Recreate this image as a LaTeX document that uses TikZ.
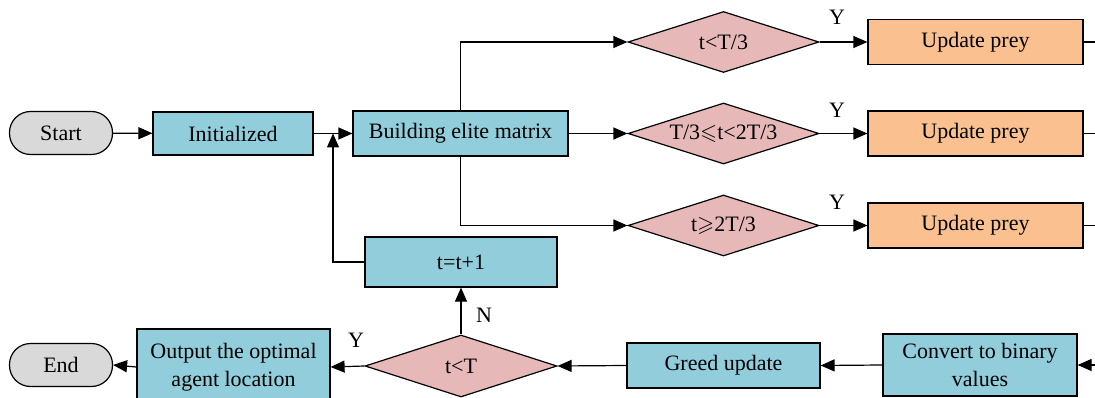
\documentclass[tikz,border=0pt]{standalone}
\usepackage{amssymb}
\usepackage{fontspec}
\setmainfont{Liberation Serif}
\usetikzlibrary{arrows.meta,shapes.geometric}
\definecolor{procblue}{HTML}{92CDDC}
\definecolor{preyorange}{HTML}{FAC090}
\definecolor{condpink}{HTML}{E6B9B8}
\definecolor{termgray}{HTML}{D9D9D9}
\tikzset{
  base/.style={draw=black, line width=1.2pt, inner sep=0pt, align=center,
    font=\fontsize{22}{28}\selectfont},
  proc/.style={base, rectangle, fill=procblue},
  prey/.style={base, rectangle, fill=preyorange, minimum width=215pt, minimum height=45pt},
  cond/.style={base, diamond, shape aspect=3.1, fill=condpink},
  term/.style={base, rectangle, rounded corners=21pt, fill=termgray,
    minimum width=103pt, minimum height=43pt},
  arr/.style={line width=1.2pt, -{Triangle[length=14pt,width=12pt]}},
  link/.style={line width=1.2pt},
  lbl/.style={inner sep=0pt, font=\fontsize{22}{28}\selectfont}
}
\begin{document}
\begin{tikzpicture}[x=1pt,y=-1pt]
\clip (0,0) rectangle (1095,398);

% top row
\node[term] (start) at (61,133) {Start};
\node[proc, minimum width=160pt, minimum height=43pt] (init) at (233,133.5) {Initialized};
\node[proc, minimum width=215pt, minimum height=45pt] (build) at (460.5,133.5) {Building elite matrix};

% phase conditions
\node[cond, minimum width=191pt, minimum height=61pt] (d1) at (723.5,42) {t<T/3};
\node[cond, minimum width=191pt, minimum height=61pt] (d2) at (723.5,133.5) {T/3\(\leqslant\)t<2T/3};
\node[cond, minimum width=191pt, minimum height=61pt] (d3) at (723.5,225.5) {t\(\geqslant\)2T/3};

% prey updates
\node[prey] (u1) at (975.5,42) {Update prey};
\node[prey] (u2) at (975.5,133.5) {Update prey};
\node[prey] (u3) at (975.5,225.5) {Update prey};
\coordinate (o1) at (1100,42);
\coordinate (o2) at (1100,133.5);
\coordinate (o3) at (1100,225.5);

% iteration counter
\node[proc, minimum width=192pt, minimum height=50pt] (inc) at (461,262) {t=t+1};
\coordinate (fb) at (333,133.5);

% bottom row
\node[cond, minimum width=192pt, minimum height=62pt] (dT) at (461,366) {t<T};
\node[proc, minimum width=193pt, minimum height=76pt] (out) at (233.5,367) {Output the optimal\\agent location};
\node[term] (end) at (61,365) {End};
\node[proc, minimum width=193pt, minimum height=45pt] (greed) at (723.5,365.5) {Greed update};
\node[proc, minimum width=194pt, minimum height=62pt] (conv) at (980,365) {Convert to binary\\values};
\coordinate (cin) at (1100,365);

% connectors
\draw[arr] (start) -- (init);
\draw[arr] (init) -- (build);
\draw[arr] (build.north) |- (d1.west);
\draw[arr] (build.east) -- (d2.west);
\draw[arr] (build.south) |- (d3.west);
\draw[arr] (d1.east) -- (u1.west);
\draw[arr] (d2.east) -- (u2.west);
\draw[arr] (d3.east) -- (u3.west);
\draw[link] (u1.east) -- (o1);
\draw[link] (u2.east) -- (o2);
\draw[link] (u3.east) -- (o3);
\draw[arr] (inc.west) -| (fb);
\draw[arr] (cin) -- (conv.east);
\draw[arr] (conv.west) -- (greed.east);
\draw[arr] (greed.west) -- (dT.east);
\draw[arr] (dT.west) -- (out.east);
\draw[arr] (out.west) -- (end.east);
\draw[arr] (dT.north) -- (inc.south);

% branch labels
\node[lbl] at (837,17) {Y};
\node[lbl] at (837,110) {Y};
\node[lbl] at (837,202) {Y};
\node[lbl] at (484,315) {N};
\node[lbl] at (356,340) {Y};
\end{tikzpicture}
\end{document}
